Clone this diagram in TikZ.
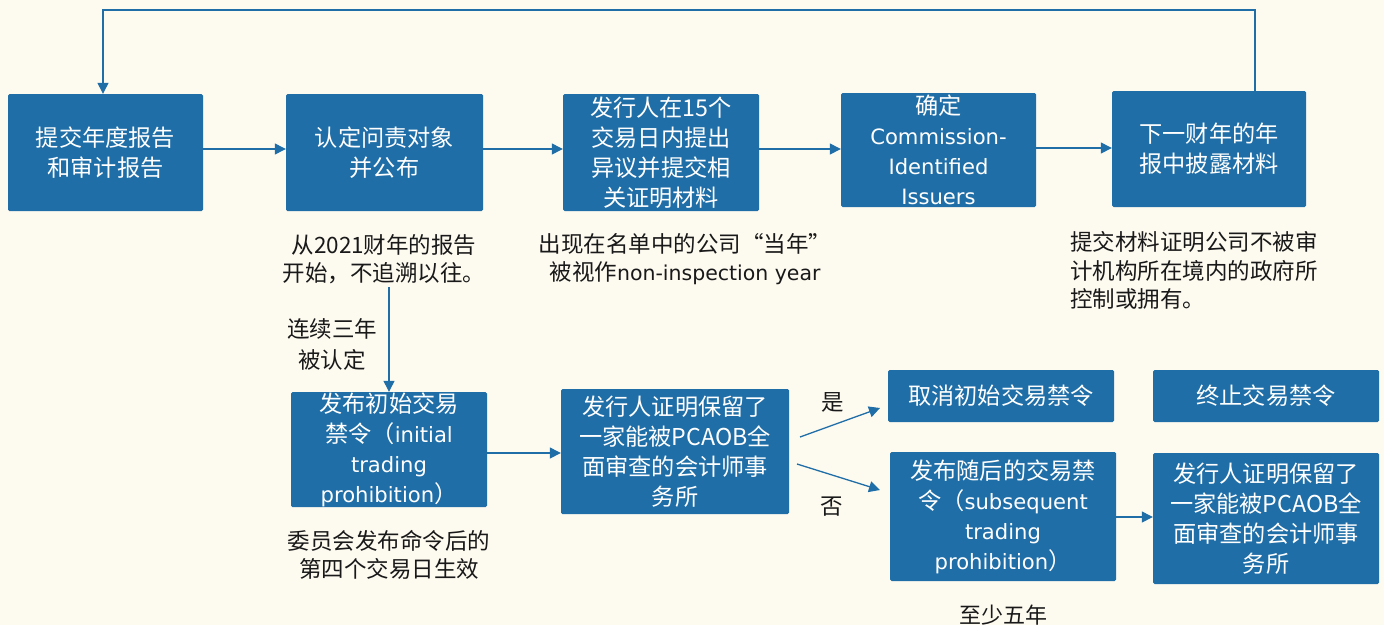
\documentclass[tikz,border=0pt]{standalone}
\usepackage{fontspec}
\setmainfont{Noto Sans CJK SC}
\newfontfamily\en{DejaVu Sans}[Scale=0.91]
\usetikzlibrary{arrows.meta,calc}
\definecolor{bg}{RGB}{253,250,240}
\definecolor{boxblue}{RGB}{31,110,167}
\definecolor{ink}{RGB}{25,25,25}
\begin{document}
\begin{tikzpicture}[x=1pt,y=-1pt,
  box/.style={fill=boxblue, text=white, rounded corners=1.5pt, inner sep=0pt, align=center,
    font=\fontsize{23.2pt}{30pt}\selectfont},
  note/.style={text=ink, inner sep=3pt, align=center, font=\fontsize{22.5pt}{28.5pt}\selectfont},
  arr/.style={draw=boxblue, line width=1.3pt, -{Triangle[length=11pt,width=11pt]}}]
\fill[bg] (0,0) rectangle (1384,625);
% top row
\node[box, minimum width=195pt, minimum height=117pt] (b1) at (105.5,152.5) {提交年度报告\\和审计报告};
\node[box, minimum width=197pt, minimum height=117pt] (b2) at (384.5,152.5) {认定问责对象\\并公布};
\node[box, minimum width=196pt, minimum height=117pt] (b3) at (661,152.5) {发行人在15个\\交易日内提出\\异议并提交相\\关证明材料};
\node[box, minimum width=195pt, minimum height=114pt] (b4) at (938.5,150) {确定\\{\en Commission-}\\{\en Identified}\\{\en Issuers}};
\node[box, minimum width=194pt, minimum height=116pt] (b5) at (1209,149) {下一财年的年\\报中披露材料};
% notes
\node[note] (n1) at (384,259) {从2021财年的报告\\开始，不追溯以往。};
\node[note] (n2) at (685,259) {出现在名单中的公司“当年”\\被视作{\en non-inspection year}};
\node[note, anchor=west, align=left, inner sep=0pt] (n3) at (1070,270.5) {提交材料证明公司不被审\\计机构所在境内的政府所\\控制或拥有。};
% lower part
\node[box, minimum width=196pt, minimum height=115pt] (b6) at (389,449.5) {发布初始交易\\禁令（{\en initial}\\{\en trading}\\{\en prohibition}）};
\node[box, minimum width=228pt, minimum height=125pt] (b7) at (675,451.5) {发行人证明保留了\\一家能被PCAOB全\\面审查的会计师事\\务所};
\node[box, minimum width=226pt, minimum height=52pt] (b8) at (1001,396) {取消初始交易禁令};
\node[box, minimum width=226pt, minimum height=52pt] (b9) at (1266,396) {终止交易禁令};
\node[box, minimum width=226pt, minimum height=129pt] (b10) at (1003,516.5) {发布随后的交易禁\\令（{\en subsequent}\\{\en trading}\\{\en prohibition}）};
\node[box, minimum width=226pt, minimum height=131pt] (b11) at (1266,518.5) {发行人证明保留了\\一家能被PCAOB全\\面审查的会计师事\\务所};
\node[note] (n4) at (389,555) {委员会发布命令后的\\第四个交易日生效};
\node[note, font=\fontsize{22.5pt}{31pt}\selectfont] (l1) at (332,344.5) {连续三年\\被认定};
\node[note] (yes) at (833,402) {是};
\node[note] (no) at (832,507) {否};
\node[note, font=\fontsize{22pt}{26pt}\selectfont] (n5) at (1003,615) {至少五年};
% connectors
\coordinate (tr) at (1255,10);
\coordinate (tl) at (103,10);
\draw[arr] (b5.north -| tr) |- (tl) -- (tl |- b1.north);
\draw[arr] (b1.east |- 0,149) -- (b2.west |- 0,149);
\draw[arr] (b2.east |- 0,149) -- (b3.west |- 0,149);
\draw[arr] (b3.east |- 0,149) -- (b4.west |- 0,149);
\draw[arr] (b4.east |- 0,148) -- (b5.west |- 0,148);
\draw[arr] (n1.south -| b6.north) -- (b6.north);
\draw[arr] (b6.east |- 0,453) -- (b7.west |- 0,453);
\coordinate (ya) at (800,437);
\coordinate (yb) at (880,408);
\coordinate (na) at (797,464);
\coordinate (nb) at (880,490);
\draw[arr] (ya) -- (yb);
\draw[arr] (na) -- (nb);
\draw[arr] (b10.east |- 0,517) -- (b11.west |- 0,517);
\end{tikzpicture}
\end{document}
